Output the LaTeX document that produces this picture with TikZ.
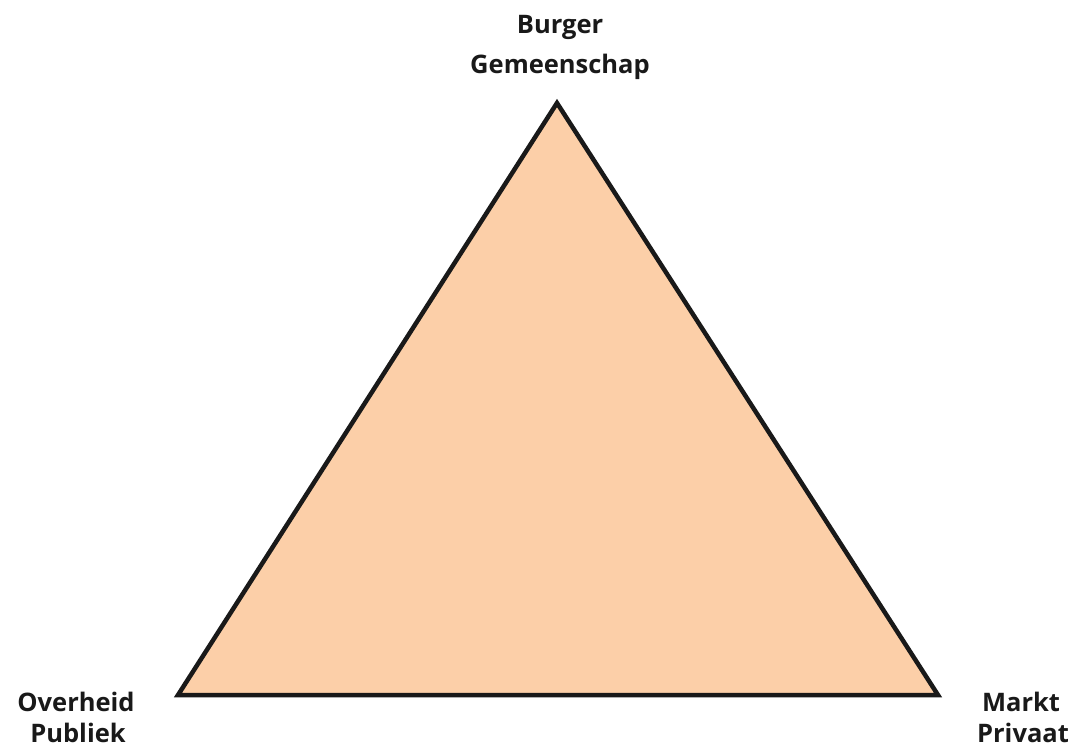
\documentclass[tikz,border=0pt]{standalone}
\usepackage{fontspec}
\setmainfont{Open Sans}
\definecolor{peach}{HTML}{FCCFA8}
\begin{document}
\begin{tikzpicture}[x=1pt,y=-1pt,
  lbl/.style={anchor=base,inner sep=0pt,font=\fontsize{25.5}{30}\selectfont\bfseries,text=black!90}]
\useasboundingbox (0,0) rectangle (1072,753);
\coordinate (top) at (557,103);
\coordinate (bl) at (178,695);
\coordinate (br) at (938,695);
\filldraw[fill=peach,draw=black!90,line width=4.5pt,line join=miter] (top) -- (bl) -- (br) -- cycle;
\node[lbl] (b1) at (560,33) {Burger};
\node[lbl] (b2) at (560,73) {Gemeenschap};
\node[lbl] (o1) at (76,711) {Overheid};
\node[lbl] (o2) at (78,742) {Publiek};
\node[lbl] (m1) at (1021,711) {Markt};
\node[lbl] (m2) at (1023,742) {Privaat};
\end{tikzpicture}
\end{document}
